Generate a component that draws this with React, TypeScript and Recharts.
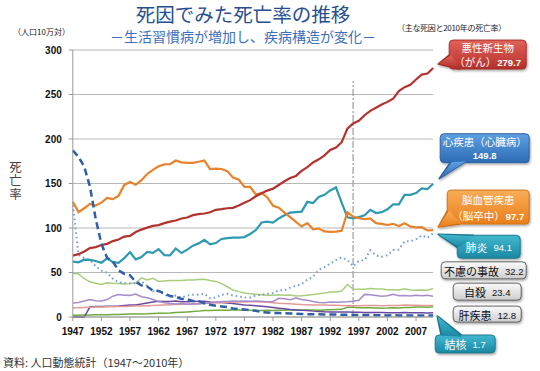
import React from 'react';
import { LineChart, Line, XAxis, YAxis, CartesianGrid, ReferenceLine } from 'recharts';

const years = [
  1947, 1948, 1949, 1950, 1951, 1952, 1953, 1954, 1955, 1956,
  1957, 1958, 1959, 1960, 1961, 1962, 1963, 1964, 1965, 1966,
  1967, 1968, 1969, 1970, 1971, 1972, 1973, 1974, 1975, 1976,
  1977, 1978, 1979, 1980, 1981, 1982, 1983, 1984, 1985, 1986,
  1987, 1988, 1989, 1990, 1991, 1992, 1993, 1994, 1995, 1996,
  1997, 1998, 1999, 2000, 2001, 2002, 2003, 2004, 2005, 2006,
  2007, 2008, 2009, 2010,
];

const cancer = [
  69.0, 70.6, 73.6, 77.4, 78.5, 80.9, 82.2, 85.3, 87.1, 90.4,
  91.2, 95.5, 98.2, 100.4, 102.3, 103.2, 105.5, 107.1, 108.4, 110.7,
  111.8, 114.4, 115.5, 116.3, 117.7, 120.4, 121.2, 122.2, 122.6, 125.3,
  128.4, 131.3, 135.7, 139.1, 142.0, 144.2, 148.3, 152.5, 156.1, 158.5,
  164.2, 168.4, 173.6, 177.2, 181.7, 187.8, 190.4, 196.4, 211.6, 217.5,
  220.4, 226.7, 231.6, 235.2, 238.8, 241.7, 245.4, 253.9, 258.3, 261.0,
  266.9, 272.3, 273.5, 279.7,
];

const heart = [
  62.2, 61.4, 64.4, 64.2, 62.9, 61.0, 65.9, 61.6, 60.9, 66.2,
  72.8, 64.8, 67.4, 73.2, 72.1, 76.2, 69.6, 69.3, 77.0, 71.9,
  75.7, 80.2, 82.7, 86.7, 81.6, 83.1, 87.7, 88.7, 89.2, 89.2,
  89.8, 93.3, 97.7, 106.2, 107.2, 106.1, 110.7, 114.3, 117.3, 117.9,
  118.4, 129.4, 128.1, 134.8, 137.2, 142.2, 145.6, 128.6, 112.0, 110.8,
  112.2, 114.3, 120.4, 116.8, 117.8, 121.0, 126.5, 126.5, 137.2, 137.2,
  139.2, 144.4, 143.7, 149.8,
];

const stroke = [
  129.4, 117.9, 122.2, 127.1, 125.2, 128.5, 133.7, 132.4, 136.1, 148.4,
  151.7, 148.6, 153.7, 160.7, 165.4, 169.4, 171.4, 171.7, 175.8, 173.8,
  173.1, 173.1, 174.4, 175.8, 166.1, 166.7, 166.3, 163.9, 156.7, 154.5,
  146.2, 146.2, 137.7, 139.5, 134.3, 125.0, 122.8, 117.2, 112.2, 106.9,
  101.7, 105.5, 98.5, 99.4, 96.2, 95.6, 96.0, 96.9, 117.9, 112.6,
  111.0, 110.0, 110.8, 105.5, 104.7, 103.4, 104.7, 102.3, 105.3, 101.7,
  100.8, 100.9, 97.2, 97.7,
];

const pneumonia = [
  126, 70, 66, 64, 57, 52, 50, 43, 39, 38,
  38, 38, 40, 35, 29, 29, 25, 23, 24, 22,
  24, 25, 25, 26, 21, 22, 25, 26, 24, 23,
  22, 22, 24, 25, 26, 27, 30, 30, 33, 35,
  37, 42, 45, 53, 56, 60, 64, 67, 64.1, 56.9,
  63.1, 63.8, 74.9, 69.2, 67.8, 69.4, 75.3, 75.7, 85.0, 85.0,
  87.4, 91.6, 89.0, 94.1,
];

const tuberculosis = [
  187.2, 179.9, 168.8, 146.4, 110.3, 82.2, 66.5, 62.4, 52.3, 48.6,
  46.9, 39.4, 35.5, 34.2, 29.6, 29.3, 26.3, 23.6, 22.8, 20.3,
  19.8, 18.1, 17.8, 15.4, 13.7, 12.6, 11.9, 11.1, 9.5, 8.9,
  8.3, 7.6, 7.0, 5.5, 5.0, 4.6, 4.4, 4.2, 3.9, 3.7,
  3.4, 3.2, 3.1, 3.0, 2.8, 2.8, 2.7, 2.6, 2.6, 2.3,
  2.2, 2.2, 2.3, 2.1, 2.0, 1.8, 1.9, 1.8, 1.8, 1.8,
  1.8, 1.8, 1.7, 1.7,
];

const accident = [
  49.0, 48.5, 43.0, 39.5, 38.0, 36.5, 38.5, 38.0, 37.7, 37.0,
  37.5, 38.5, 44.0, 41.7, 43.5, 40.0, 40.5, 41.0, 40.9, 41.0,
  41.5, 41.5, 42.0, 42.5, 41.0, 40.0, 37.5, 34.0, 30.3, 28.5,
  27.0, 26.0, 25.5, 25.1, 24.5, 24.5, 25.0, 24.5, 24.6, 23.5,
  23.8, 24.5, 25.3, 26.2, 26.9, 28.1, 28.0, 29.1, 36.5, 31.4,
  31.1, 31.1, 32.0, 31.4, 31.4, 30.7, 30.7, 30.3, 31.6, 30.3,
  30.1, 30.3, 30.0, 32.2,
];

const suicide = [
  15.7, 16.4, 17.9, 19.6, 18.2, 18.0, 19.6, 23.4, 25.2, 24.5,
  24.3, 25.7, 22.7, 21.6, 19.6, 17.5, 16.1, 15.1, 14.7, 15.2,
  14.2, 14.5, 14.5, 15.3, 15.6, 17.0, 17.4, 17.5, 18.0, 17.6,
  17.9, 17.6, 18.0, 17.7, 17.1, 17.5, 21.0, 20.4, 19.4, 21.2,
  19.6, 18.7, 17.3, 16.4, 16.1, 16.9, 16.6, 16.9, 17.2, 17.8,
  18.8, 25.4, 25.0, 24.1, 23.3, 23.8, 25.5, 24.0, 24.2, 23.7,
  24.4, 24.0, 24.4, 23.4,
];

const liver = [
  10.5, 10.5, 10.7, 11.0, 11.1, 11.2, 11.4, 11.5, 11.7, 11.9,
  12.2, 12.3, 12.4, 12.6, 12.9, 13.2, 13.5, 13.8, 14.1, 14.3,
  14.6, 15.0, 15.3, 15.6, 15.8, 16.0, 16.3, 16.6, 16.8, 16.9,
  16.9, 17.0, 17.0, 16.8, 16.5, 16.0, 15.5, 15.2, 14.8, 14.4,
  14.0, 13.8, 13.6, 13.5, 13.4, 13.3, 13.2, 13.0, 12.7, 12.6,
  12.6, 12.8, 12.9, 12.8, 12.6, 12.8, 12.9, 12.9, 13.5, 13.1,
  13.2, 12.8, 12.8, 12.8,
];

const hypertension = [
  0, 0, 0, 11.5, 11.8, 11.9, 12.0, 12.1, 12.3, 12.9,
  13.4, 13.6, 14.5, 15.7, 16.8, 17.6, 17.4, 17.3, 18.0, 17.2,
  17.1, 17.4, 17.6, 17.7, 16.8, 16.4, 16.2, 15.8, 15.2, 14.4,
  13.5, 13.2, 12.6, 12.0, 11.4, 10.6, 9.9, 9.3, 8.5, 8.0,
  7.5, 7.2, 6.6, 6.2, 5.8, 5.6, 5.5, 5.6, 5.6, 5.4,
  5.2, 5.1, 5.1, 5.1, 5.0, 4.9, 4.9, 4.8, 5.0, 4.7,
  4.7, 4.7, 4.6, 4.7,
];

const diabetes = [
  2.0, 2.1, 2.3, 2.3, 2.4, 2.5, 2.6, 2.7, 2.9, 3.1,
  3.3, 3.4, 3.5, 3.6, 3.9, 4.1, 4.3, 4.6, 5.1, 5.4,
  5.7, 6.1, 6.6, 7.2, 7.4, 7.5, 7.6, 7.7, 7.8, 7.8,
  7.6, 7.5, 7.4, 7.3, 7.5, 7.4, 7.6, 7.7, 7.8, 7.9,
  7.8, 7.9, 8.0, 7.7, 7.9, 8.2, 8.4, 8.6, 11.0, 10.9,
  10.4, 10.5, 10.5, 10.2, 9.9, 10.1, 10.5, 10.2, 10.7, 10.6,
  11.1, 11.2, 10.9, 11.4,
];

const xTicks = [1947, 1952, 1957, 1962, 1967, 1972, 1977, 1982, 1987, 1992, 1997, 2002, 2007];
const yTicks = [0, 50, 100, 150, 200, 250, 300];
const markerYear = 1996;

const data = years.map((year, i) => ({
  year,
  cancer: cancer[i],
  heart: heart[i],
  stroke: stroke[i],
  pneumonia: pneumonia[i],
  tuberculosis: tuberculosis[i],
  accident: accident[i],
  suicide: suicide[i],
  liver: liver[i],
  hypertension: hypertension[i],
  diabetes: diabetes[i],
}));

const last = (arr: number[]) => arr[arr.length - 1].toFixed(1);

const JP = '"Noto Sans CJK JP", "Noto Sans", sans-serif';
const NUM = '"Liberation Sans", Arial, sans-serif';

type Spec = {
  grad: string;
  border: string;
  textColor: string;
  dx: number;
  dy: number;
  w: number;
  h: number;
  tip?: [number, number];
  base?: [[number, number], [number, number]];
  line1: string;
  line2?: string;
  num: string;
};

const makeCallout = (spec: Spec) => (props: any) => {
  const index = props.index;
  if (index !== years.length - 1) return null;
  const px = props.x ?? props.viewBox?.x;
  const py = props.y ?? props.viewBox?.y;
  if (px == null || py == null) return null;
  const bx = px + spec.dx;
  const by = py + spec.dy;
  const cx = bx + spec.w / 2;
  const cy = by + spec.h / 2;
  let tri: string | null = null;
  let tri2: string | null = null;
  if (spec.tip && spec.base) {
    const tx = px + spec.tip[0];
    const ty = py + spec.tip[1];
    const b = spec.base.map(([u, v]) => [bx + u, by + v]);
    tri = `M${tx},${ty} L${b[0][0]},${b[0][1]} L${b[1][0]},${b[1][1]} Z`;
    const inner = b.map(([u, v]) => {
      const ddx = cx - u;
      const ddy = cy - v;
      const len = Math.sqrt(ddx * ddx + ddy * ddy) || 1;
      return [u + (ddx / len) * 2, v + (ddy / len) * 2];
    });
    tri2 = `M${tx},${ty} L${inner[0][0]},${inner[0][1]} L${inner[1][0]},${inner[1][1]} Z`;
  }
  const fill = `url(#${spec.grad})`;
  return (
    <g key={`callout-${spec.line1}`}>
      <g filter="url(#shd)">
        {tri && <path d={tri} fill={fill} stroke={spec.border} strokeWidth={1.6} strokeLinejoin="round" />}
        <rect x={bx} y={by} width={spec.w} height={spec.h} rx={4} ry={4} fill={fill} stroke={spec.border} strokeWidth={0.9} />
        {tri2 && <path d={tri2} fill={fill} stroke="none" />}
      </g>
      {spec.line2 !== undefined ? (
        <>
          <text x={cx} y={by + spec.h * 0.27} textAnchor="middle" dominantBaseline="central" fill={spec.textColor} fontFamily={JP} fontSize={10.5}>
            {spec.line1}
          </text>
          <text x={cx} y={by + spec.h * 0.75} textAnchor="middle" dominantBaseline="central" fill={spec.textColor} fontFamily={JP} fontSize={10.5}>
            {spec.line2}
            <tspan fontFamily={NUM} fontSize={9.5} fontWeight="bold" dx={spec.line2 ? 1 : 0}>{spec.num}</tspan>
          </text>
        </>
      ) : (
        <text x={cx} y={cy + 0.5} textAnchor="middle" dominantBaseline="central" fill={spec.textColor} fontFamily={JP} fontSize={11}>
          {spec.line1}
          <tspan fontFamily={NUM} fontSize={9.5} dx={6}>{spec.num}</tspan>
        </text>
      )}
    </g>
  );
};

const calloutCancer = makeCallout({ grad: 'gRed', border: '#9e2a24', textColor: '#fff', dx: 16, dy: -28, w: 77, h: 29, tip: [5, -4], base: [[0, 15], [10, 29]], line1: '悪性新生物', line2: '（がん）', num: last(cancer) });
const calloutHeart = makeCallout({ grad: 'gBlue', border: '#2a5c98', textColor: '#fff', dx: 7, dy: -50, w: 89, h: 29, tip: [6, -5], base: [[10, 29], [24, 29]], line1: '心疾患（心臓病）', line2: '', num: last(heart) });
const calloutStroke = makeCallout({ grad: 'gOrange', border: '#c96d16', textColor: '#fff', dx: 14, dy: -40, w: 82, h: 34, tip: [5, -3], base: [[0, 21], [12, 34]], line1: '脳血管疾患', line2: '（脳卒中）', num: last(stroke) });
const calloutPneumonia = makeCallout({ grad: 'gTeal', border: '#1a7388', textColor: '#fff', dx: 24, dy: 2, w: 63, h: 23, tip: [5, 1], base: [[0, 12], [16, 0]], line1: '肺炎', num: last(pneumonia) });
const calloutTb = makeCallout({ grad: 'gTeal', border: '#1a7388', textColor: '#fff', dx: 2, dy: 19.5, w: 60, h: 18, tip: [4, 0.5], base: [[6, 0], [26, 0]], line1: '結核', num: last(tuberculosis) });
const calloutAccident = makeCallout({ grad: 'gGray', border: '#555', textColor: '#111', dx: 8, dy: -26.5, w: 85, h: 17, line1: '不慮の事故', num: last(accident) });
const calloutSuicide = makeCallout({ grad: 'gGray', border: '#555', textColor: '#111', dx: 20, dy: -13, w: 68, h: 17, line1: '自殺', num: last(suicide) });
const calloutLiver = makeCallout({ grad: 'gGray', border: '#555', textColor: '#111', dx: 20, dy: 0.5, w: 68, h: 16, line1: '肝疾患', num: last(liver) });

const tickStyle = { fontSize: 10, fontWeight: 'bold' as const, fill: '#111', fontFamily: NUM };

export default function App() {
  return (
    <div style={{ position: 'absolute', left: 0, top: 0, width: 540, height: 371, background: '#fff', fontFamily: JP, overflow: 'hidden' }}>
      <LineChart
        width={540}
        height={371}
        data={data}
        margin={{ top: 50, right: 106.8, bottom: 24, left: 12.8 }}
      >
        <defs>
          <linearGradient id="gRed" x1="0" y1="0" x2="0" y2="1">
            <stop offset="0%" stopColor="#e2625a" />
            <stop offset="100%" stopColor="#b3302a" />
          </linearGradient>
          <linearGradient id="gBlue" x1="0" y1="0" x2="0" y2="1">
            <stop offset="0%" stopColor="#5e9fe2" />
            <stop offset="100%" stopColor="#2d6cb5" />
          </linearGradient>
          <linearGradient id="gOrange" x1="0" y1="0" x2="0" y2="1">
            <stop offset="0%" stopColor="#f9ad58" />
            <stop offset="100%" stopColor="#e97f19" />
          </linearGradient>
          <linearGradient id="gTeal" x1="0" y1="0" x2="0" y2="1">
            <stop offset="0%" stopColor="#42b8cf" />
            <stop offset="100%" stopColor="#1b88a2" />
          </linearGradient>
          <linearGradient id="gGray" x1="0" y1="0" x2="0" y2="1">
            <stop offset="0%" stopColor="#fbfbfb" />
            <stop offset="100%" stopColor="#cdcdcd" />
          </linearGradient>
          <filter id="shd" x="-20%" y="-30%" width="140%" height="170%">
            <feDropShadow dx="1" dy="1.5" stdDeviation="1" floodColor="#000" floodOpacity="0.35" />
          </filter>
        </defs>
        <CartesianGrid vertical={false} stroke="#b8b8b8" strokeWidth={1} />
        <XAxis
          dataKey="year"
          type="number"
          domain={[1947, 2010]}
          ticks={xTicks}
          interval={0}
          height={30}
          tickSize={4}
          tickMargin={7}
          axisLine={{ stroke: '#9a9a9a' }}
          tickLine={{ stroke: '#9a9a9a' }}
          tick={tickStyle}
        />
        <YAxis
          type="number"
          domain={[0, 300]}
          ticks={yTicks}
          interval={0}
          width={60}
          tickSize={4}
          tickMargin={7}
          axisLine={{ stroke: '#9a9a9a' }}
          tickLine={{ stroke: '#9a9a9a' }}
          tick={tickStyle}
        />
        <ReferenceLine
          segment={[{ x: markerYear, y: 0 }, { x: markerYear, y: 265 }]}
          stroke="#9a9a9a"
          strokeWidth={1.2}
          strokeDasharray="7 2 2 2"
        />
        <Line dataKey="diabetes" stroke="#72aa3e" strokeWidth={1.5} dot={false} activeDot={false} isAnimationActive={false} />
        <Line dataKey="hypertension" stroke="#6a4a9e" strokeWidth={1.5} dot={false} activeDot={false} isAnimationActive={false} />
        <Line dataKey="liver" stroke="#e29a97" strokeWidth={1.5} dot={false} activeDot={false} isAnimationActive={false} label={calloutLiver} />
        <Line dataKey="suicide" stroke="#a78cc9" strokeWidth={1.5} dot={false} activeDot={false} isAnimationActive={false} label={calloutSuicide} />
        <Line dataKey="accident" stroke="#a9cd7c" strokeWidth={1.5} dot={false} activeDot={false} isAnimationActive={false} label={calloutAccident} />
        <Line dataKey="pneumonia" stroke="#7c9dd8" strokeWidth={2} strokeDasharray="1.6 3" dot={false} activeDot={false} isAnimationActive={false} label={calloutPneumonia} />
        <Line dataKey="heart" stroke="#2e9ab2" strokeWidth={2.2} dot={false} activeDot={false} isAnimationActive={false} label={calloutHeart} />
        <Line dataKey="stroke" stroke="#e8822b" strokeWidth={2.2} dot={false} activeDot={false} isAnimationActive={false} label={calloutStroke} />
        <Line dataKey="cancer" stroke="#b3322d" strokeWidth={2.2} dot={false} activeDot={false} isAnimationActive={false} label={calloutCancer} />
        <Line dataKey="tuberculosis" stroke="#2f5fa7" strokeWidth={2.5} strokeDasharray="7 4" dot={false} activeDot={false} isAnimationActive={false} label={calloutTb} />
      </LineChart>

      <div style={{ position: 'absolute', left: 0, top: 3, width: 486, textAlign: 'center', fontSize: 19.5, lineHeight: '22px', color: '#27508f', whiteSpace: 'nowrap' }}>
        死因でみた死亡率の推移
      </div>
      <div style={{ position: 'absolute', left: 0, top: 27, width: 486, textAlign: 'center', fontSize: 14, lineHeight: '18px', color: '#3d71bd', whiteSpace: 'nowrap' }}>
        －生活習慣病が増加し、疾病構造が変化－
      </div>
      <div style={{ position: 'absolute', left: 13, top: 26, fontSize: 8, lineHeight: '12px', color: '#222', whiteSpace: 'nowrap' }}>
        （人口10万対）
      </div>
      <div style={{ position: 'absolute', left: 397, top: 22, fontSize: 8, lineHeight: '12px', color: '#222', whiteSpace: 'nowrap', letterSpacing: '-0.3px' }}>
        （主な死因と2010年の死亡率）
      </div>
      <div style={{ position: 'absolute', left: 8, top: 160, width: 15, fontSize: 12.5, lineHeight: '13.3px', color: '#444', whiteSpace: 'pre-line', textAlign: 'center' }}>
        {'死\n亡\n率'}
      </div>
      <div style={{ position: 'absolute', left: 3, top: 354, fontSize: 11, lineHeight: '16px', color: '#333', whiteSpace: 'nowrap' }}>
        資料: 人口動態統計（1947～2010年）
      </div>
    </div>
  );
}
